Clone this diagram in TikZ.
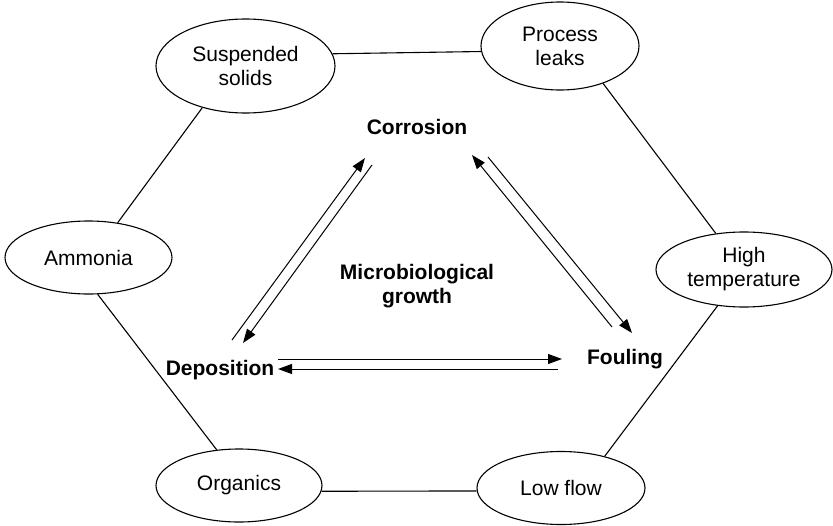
\documentclass[tikz,border=0pt]{standalone}
\usepackage{fontspec}
\setmainfont{Liberation Sans}
\usetikzlibrary{arrows.meta,shapes.geometric}
\begin{document}
\begin{tikzpicture}[x=1pt,y=-1pt,
  oval/.style={draw, ellipse, line width=1.1pt, inner sep=0pt, align=center,
    font=\fontsize{21}{24}\selectfont},
  lbl/.style={inner sep=0pt, align=center, font=\bfseries\fontsize{21}{24}\selectfont},
  link/.style={line width=1.1pt},
  flow/.style={line width=1pt, -{Triangle[length=14pt,width=10pt]}}]
\useasboundingbox (0,0) rectangle (833,525);
% ellipses
\node[oval, minimum width=179pt, minimum height=94pt] (ss) at (245.5,66) {Suspended\\solids};
\node[oval, minimum width=158pt, minimum height=88pt] (pl) at (560,46) {Process\\leaks};
\node[oval, minimum width=167pt, minimum height=73pt] (am) at (88.5,257.5) {Ammonia};
\node[oval, minimum width=176pt, minimum height=75pt] (ht) at (744,269.5) {High\\temperature};
\node[oval, minimum width=166pt, minimum height=73pt] (or) at (239,485.5) {Organics};
\node[oval, minimum width=168pt, minimum height=73pt] (lf) at (561,488) {Low flow};
% central labels
\node[lbl] (co) at (417,127) {Corrosion};
\node[lbl] (mb) at (417,286) {Microbiological\\growth};
\node[lbl] (de) at (220,370) {Deposition};
\node[lbl] (fo) at (625,359) {Fouling};
% hexagon links
\draw[link] (ss.8.6) -- (pl.184.4);
\draw[link] (ss.224.7) -- (am.50.4);
\draw[link] (am.284.2) -- (or.122.9);
\draw[link] (pl.319.3) -- (ht.128.5);
\draw[link] (ht.234.5) -- (lf.36.4);
\draw[link] (or.356.2) -- (lf.182.1);
% arrow end points
\coordinate (a1s) at (232,340); \coordinate (a1e) at (365,158);
\coordinate (a2s) at (372,165); \coordinate (a2e) at (243,343);
\coordinate (a3s) at (612,327); \coordinate (a3e) at (472,155);
\coordinate (a4s) at (488,157); \coordinate (a4e) at (632,333);
\coordinate (a5s) at (278,359); \coordinate (a5e) at (562,359);
\coordinate (a6s) at (558,369); \coordinate (a6e) at (278,369);
\draw[flow] (a1s) -- (a1e);
\draw[flow] (a2s) -- (a2e);
\draw[flow] (a3s) -- (a3e);
\draw[flow] (a4s) -- (a4e);
\draw[flow] (a5s) -- (a5e);
\draw[flow] (a6s) -- (a6e);
\end{tikzpicture}
\end{document}
